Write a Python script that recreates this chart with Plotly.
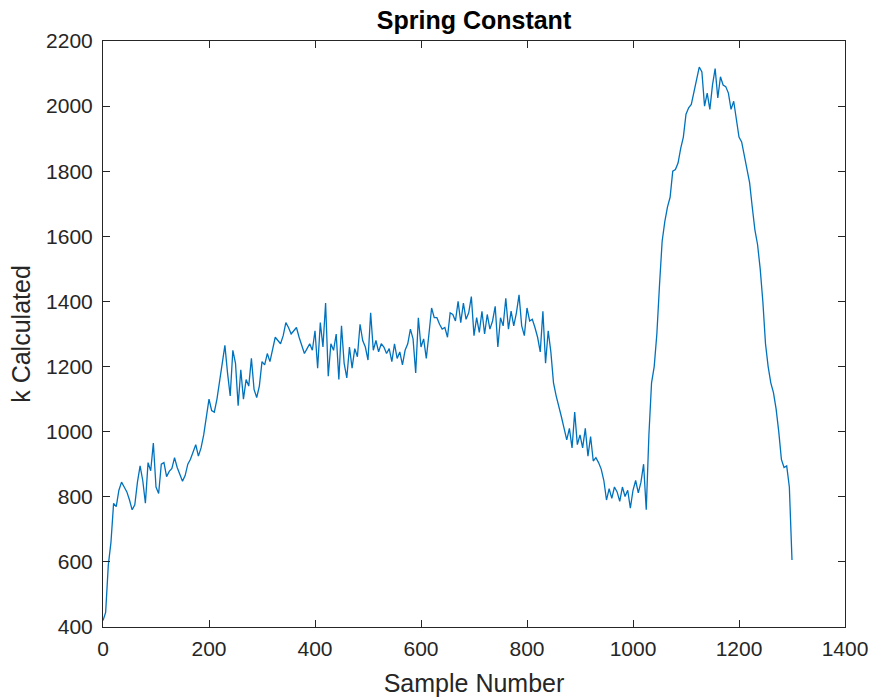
import plotly.graph_objects as go

# Sample numbers (every 5th sample) and the calculated spring constant
sample_number = list(range(0, 1301, 5))
k_calculated = [
    420, 445, 590, 660, 780, 770, 820, 845, 830, 815,
    790, 760, 775, 845, 895, 850, 780, 905, 880, 965,
    830, 810, 900, 905, 862, 878, 887, 920, 890, 870,
    848, 865, 900, 915, 935, 960, 925, 950, 990, 1040,
    1100, 1065, 1060, 1100, 1160, 1215, 1265, 1180, 1110, 1250,
    1210, 1080, 1190, 1100, 1160, 1140, 1225, 1130, 1105, 1140,
    1215, 1205, 1240, 1215, 1250, 1290, 1280, 1270, 1295, 1335,
    1320, 1300, 1310, 1320, 1290, 1265, 1240, 1255, 1270, 1250,
    1310, 1195, 1335, 1260, 1395, 1170, 1270, 1250, 1300, 1160,
    1325, 1210, 1165, 1260, 1195, 1255, 1230, 1330, 1280, 1260,
    1220, 1365, 1250, 1280, 1245, 1270, 1260, 1240, 1255, 1215,
    1270, 1225, 1245, 1205, 1250, 1270, 1315, 1285, 1180, 1350,
    1260, 1285, 1225, 1300, 1380, 1350, 1350, 1330, 1315, 1320,
    1290, 1365, 1360, 1340, 1400, 1335, 1395, 1345, 1365, 1415,
    1295, 1350, 1305, 1370, 1300, 1360, 1315, 1340, 1385, 1260,
    1350, 1325, 1410, 1315, 1370, 1325, 1365, 1420, 1325, 1295,
    1380, 1340, 1345, 1320, 1290, 1245, 1370, 1210, 1310, 1245,
    1150, 1110, 1080, 1045, 1010, 975, 1010, 950, 1060, 960,
    990, 950, 1010, 925, 985, 910, 920, 905, 885, 850,
    790, 825, 795, 830, 815, 786, 830, 801, 820, 765,
    820, 850, 812, 845, 900, 760, 990, 1150, 1200, 1300,
    1450, 1585, 1645, 1690, 1720, 1800, 1805, 1825, 1870, 1905,
    1975, 1995, 2005, 2040, 2085, 2120, 2105, 2000, 2040, 1990,
    2065, 2115, 2025, 2090, 2065, 2060, 2040, 1990, 2015, 1960,
    1905, 1890, 1850, 1815, 1765, 1690, 1620, 1575, 1500, 1400,
    1270, 1200, 1150, 1120, 1070, 1000, 915, 890, 895, 830,
    606,
]

x_ticks = [0, 200, 400, 600, 800, 1000, 1200, 1400]
y_ticks = [400, 600, 800, 1000, 1200, 1400, 1600, 1800, 2000, 2200]

FONT = "Liberation Sans, Arial, Helvetica, sans-serif"
AXIS_COLOR = "#262626"

W, H = 871, 700

fig = go.Figure()
fig.add_trace(go.Scatter(
    x=sample_number, y=k_calculated, mode="lines",
    line=dict(color="#0072BD", width=1.3),
    showlegend=False,
))

axis_common = dict(
    showline=True, linecolor=AXIS_COLOR, linewidth=1,
    mirror="ticks", ticks="inside", ticklen=7, tickcolor=AXIS_COLOR,
    showgrid=False, zeroline=False, automargin=False,
    tickfont=dict(family=FONT, size=21, color=AXIS_COLOR),
)

fig.update_layout(
    width=W, height=H,
    margin=dict(l=103, r=26, t=41, b=73, autoexpand=False),
    paper_bgcolor="white", plot_bgcolor="white",
    title=dict(text="<b>Spring Constant</b>", x=0.5, xref="paper",
               y=1 - 20 / H, yref="container", yanchor="middle",
               automargin=False,
               font=dict(family=FONT, size=25, color="black")),
    xaxis=dict(range=[0, 1400], tickvals=x_ticks, ticklabelstandoff=3,
               **axis_common,
               title=dict(text="Sample Number", standoff=15,
                          font=dict(family=FONT, size=25, color=AXIS_COLOR))),
    yaxis=dict(range=[400, 2200], tickvals=y_ticks, ticklabelstandoff=5,
               **axis_common,
               title=dict(text="k Calculated", standoff=8,
                          font=dict(family=FONT, size=25, color=AXIS_COLOR))),
)

# remove the page's default body margin so the figure sits at the window's corner
fig.write_html("out.html", config={"displayModeBar": False},
               post_script="document.body.style.margin='0';")
